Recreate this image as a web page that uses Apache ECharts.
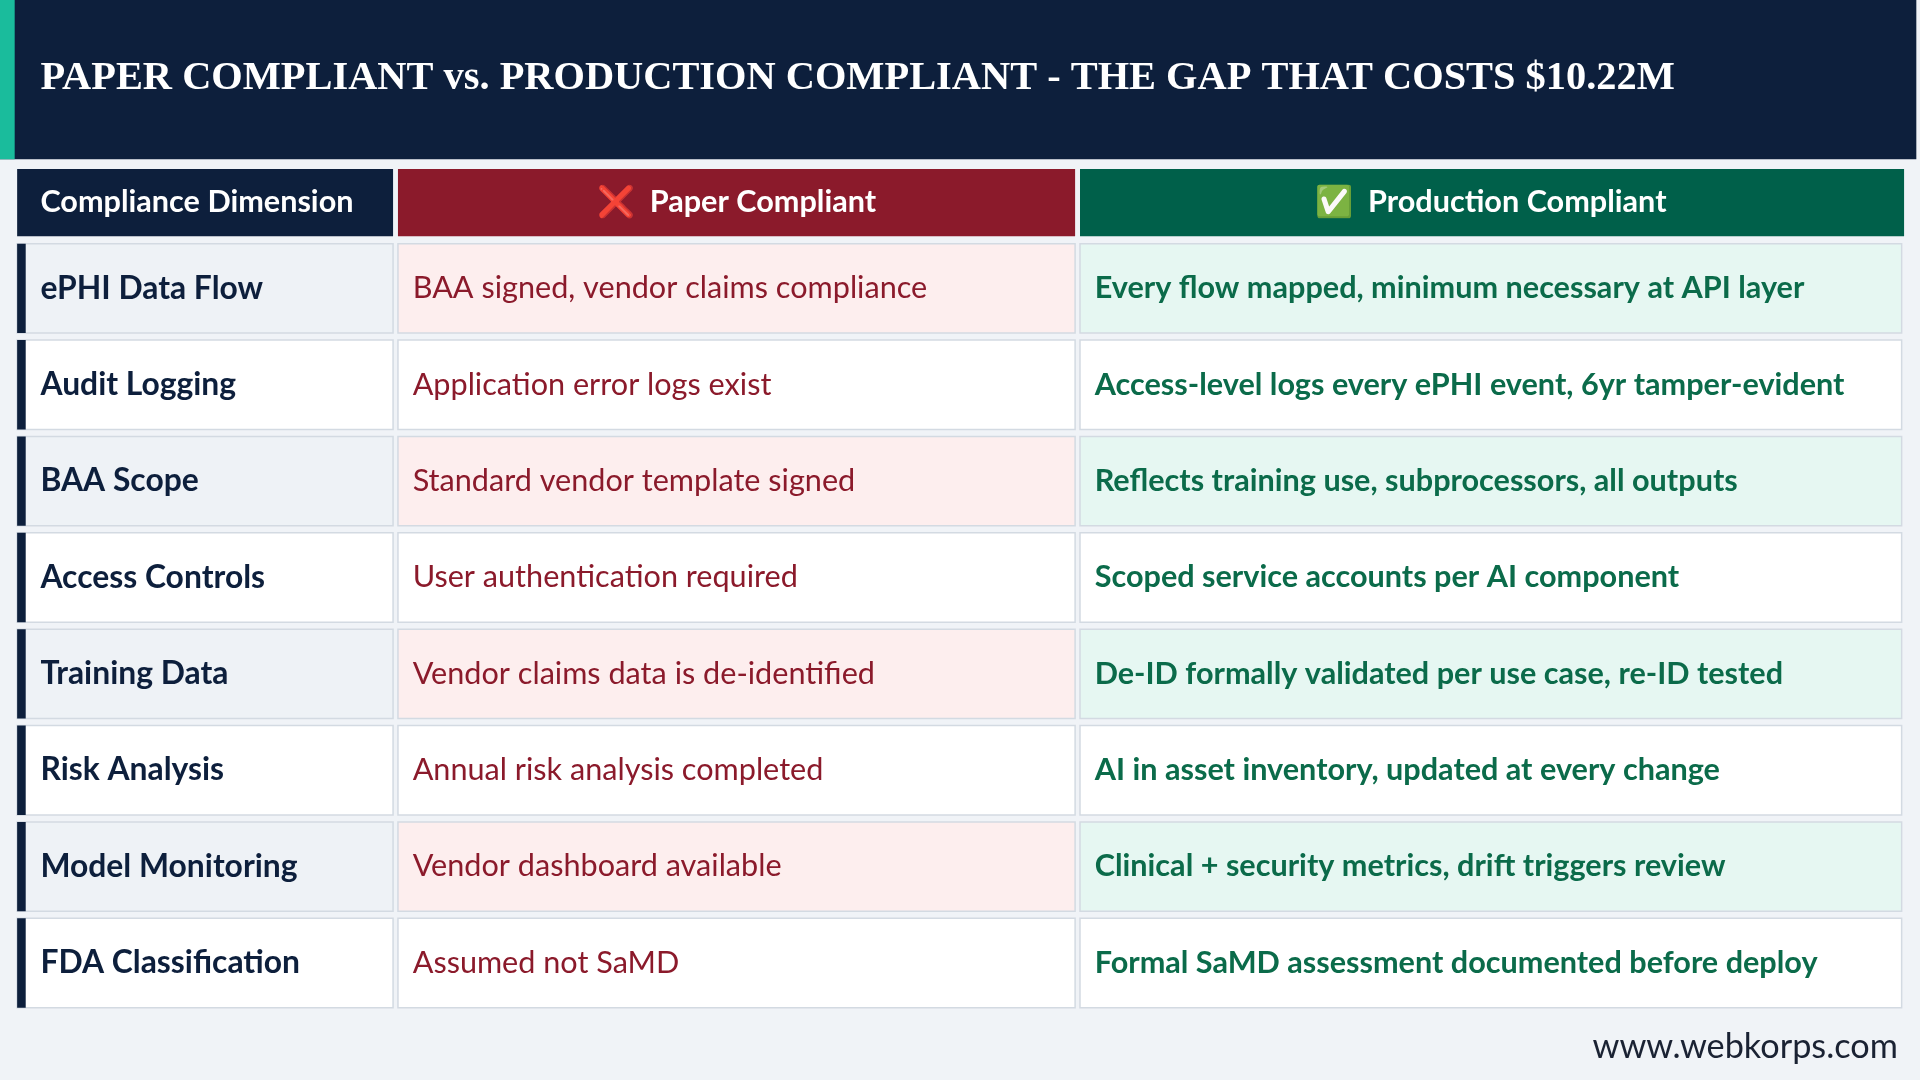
<!DOCTYPE html>
<html><head><meta charset="utf-8">
<script src="https://cdn.jsdelivr.net/npm/echarts@6/dist/echarts.min.js"></script>
<style>html,body{margin:0;padding:0;background:#f0f3f7}#c{width:1920px;height:1080px}</style>
</head><body><div id="c"></div>
<script>
const titleText = "PAPER COMPLIANT vs. PRODUCTION COMPLIANT - THE GAP THAT COSTS $10.22M";
const headers = ["Compliance Dimension", "❌  Paper Compliant", "✅  Production Compliant"];
const dimensions = ["ePHI Data Flow","Audit Logging","BAA Scope","Access Controls","Training Data","Risk Analysis","Model Monitoring","FDA Classification"];
const paper = ["BAA signed, vendor claims compliance","Application error logs exist","Standard vendor template signed","User authentication required","Vendor claims data is de-identified","Annual risk analysis completed","Vendor dashboard available","Assumed not SaMD"];
const production = ["Every flow mapped, minimum necessary at API layer","Access-level logs every ePHI event, 6yr tamper-evident","Reflects training use, subprocessors, all outputs","Scoped service accounts per AI component","De-ID formally validated per use case, re-ID tested","AI in asset inventory, updated at every change","Clinical + security metrics, drift triggers review","Formal SaMD assessment documented before deploy"];
const footer = "www.webkorps.com";

const s = 1920/1568;
const F = "Lato, 'Noto Sans', sans-serif";
const g = [];
function rect(x,y,w,h,fill,stroke){g.push({type:'rect',shape:{x:x*s,y:y*s,width:w*s,height:h*s},style:{fill:fill,stroke:stroke||null,lineWidth:stroke?1.5:0}});}
function text(x,y,t,size,color,weight,align,family){g.push({type:'text',x:x*s,y:y*s,style:{text:t,fontSize:size*s,fill:color,fontWeight:weight,fontFamily:family||F,align:align||'left',verticalAlign:'middle'}});}

rect(0,0,1565,130,'#0d1f3c');
rect(0,0,12,130,'#1abc9c');
text(33,64,titleText,33,'#ffffff','bold',"left","'Liberation Serif', 'DejaVu Serif', serif");

const cols=[[14,307],[325,553],[882,671]];
const hc=['#0d1f3c','#8b1a2b','#00604a'];
rect(cols[0][0],138,cols[0][1],55,hc[0]);
rect(cols[1][0],138,cols[1][1],55,hc[1]);
rect(cols[2][0],138,cols[2][1]+2,55,hc[2]);
text(33,165,headers[0],25,'#fff','bold');
text(cols[1][0]+cols[1][1]/2,165,headers[1],25,'#fff','bold','center');
text(cols[2][0]+cols[2][1]/2,165,headers[2],25,'#fff','bold','center');

dimensions.forEach((d,i)=>{
  const y=199+i*78.7, h=73, even=i%2===0;
  rect(14,y,307,h,even?'#eef2f6':'#ffffff','#d3dae2');
  rect(14,y,7,h,'#0d1f3c');
  rect(325,y,553,h,even?'#fdeeee':'#ffffff','#d3dae2');
  rect(882,y,671,h,even?'#e6f7f2':'#ffffff','#d3dae2');
  text(33,y+h/2,d,26,'#0d1f3c','bold');
  text(337,y+h/2,paper[i],25,'#8b1a2b','normal');
  text(894,y+h/2,production[i],25,'#0b6b4a','bold');
});
text(1550,855,footer,28,'#1a2233','normal','right');

const chart=echarts.init(document.getElementById('c'));
chart.setOption({backgroundColor:'#f0f3f7',graphic:g});
</script></body></html>
